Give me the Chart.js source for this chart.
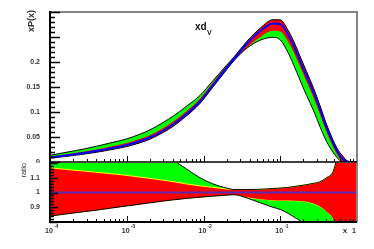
<!DOCTYPE html>
<html>
<head>
<meta charset="utf-8">
<script src="https://cdn.jsdelivr.net/npm/chart.js@4.4.0/dist/chart.umd.min.js"></script>
<style>
body{margin:0;background:#fff;}
#top{position:absolute;left:0;top:0;width:374px;height:166px;}
#bot{position:absolute;left:0;top:163px;width:374px;height:86px;background:#fff;}
</style>
</head>
<body>
<div id="top"><canvas id="c1" width="374" height="166"></canvas></div>
<div id="bot"><canvas id="c2" width="374" height="86"></canvas></div>
<script>
// values
let xs      = [1e-4, 2e-4, 4e-4, 6e-4, 1e-3, 1.5e-3, 2e-3, 3e-3, 4e-3, 6e-3, 9e-3, 0.013, 0.02, 0.025, 0.037, 0.055, 0.08, 0.1, 0.125, 0.15, 0.18, 0.22, 0.27, 0.33, 0.4, 0.55, 0.65, 0.8, 1];
let central = [0.009, 0.015, 0.022, 0.027, 0.034, 0.042, 0.049, 0.063, 0.075, 0.096, 0.121, 0.152, 0.188, 0.206, 0.237, 0.262, 0.277, 0.276, 0.256, 0.232, 0.203, 0.172, 0.140, 0.105, 0.069, 0.022, 0.006, 0, 0];
// band edges as ratio to central
let greenHi = [1.5, 1.46, 1.42, 1.4, 1.36, 1.33, 1.31, 1.26, 1.22, 1.16, 1.1, 1.06, 1.03, 1.02, 1.015, 1.015, 1.018, 1.02, 1.022, 1.026, 1.03, 1.035, 1.04, 1.045, 1.05, 1.06, 1.06, 1.06, 1.06];
let greenLo = [0.84, 0.861, 0.88, 0.893, 0.909, 0.921, 0.93, 0.942, 0.95, 0.96, 0.968, 0.975, 0.982, 0.985, 0.962, 0.93, 0.9, 0.885, 0.86, 0.835, 0.81, 0.775, 0.74, 0.67, 0.6, 0.4, 0.2, 0, 0];
let redHi   = [1.167, 1.152, 1.137, 1.128, 1.116, 1.104, 1.096, 1.083, 1.074, 1.058, 1.045, 1.035, 1.024, 1.02, 1.02, 1.022, 1.027, 1.03, 1.034, 1.04, 1.046, 1.053, 1.062, 1.072, 1.1, 1.25, 2, 2, 2];
let redLo   = [0.84, 0.861, 0.88, 0.893, 0.909, 0.921, 0.93, 0.942, 0.95, 0.96, 0.968, 0.975, 0.982, 0.985, 0.968, 0.955, 0.948, 0.946, 0.945, 0.944, 0.943, 0.937, 0.925, 0.905, 0.87, 0.7, 0, 0, 0];
let decades = [1e-4, 1e-3, 1e-2, 1e-1];
let decadeExp = ['-4', '-3', '-2', '-1'];
let topLabels = [0, 0.05, 0.1, 0.15, 0.2];
let ratioLabels = [0.9, 1, 1.1];

let FONT = '"Liberation Sans", Arial, sans-serif';

function pts(vals){ return xs.map((x,i)=>({x:x, y:vals[i]})); }
function times(r){ return r.map((v,i)=>v*central[i]); }
function hiEnv(){ return xs.map((x,i)=>Math.max(greenHi[i], redHi[i])); }
function loEnv(){ return xs.map((x,i)=>Math.min(greenLo[i], redLo[i])); }

function xTicks(ctx, xS, y, up){
  ctx.lineWidth = 1;
  ctx.strokeStyle = '#000';
  ctx.beginPath();
  decades.forEach(d=>{
    for(let m=1;m<=9;m++){
      let px = Math.round(xS.getPixelForValue(m*d))+0.5;
      let len = m==1 ? 6 : 3;
      ctx.moveTo(px, y); ctx.lineTo(px, y-len*up);
    }
  });
  ctx.stroke();
}

function yTicks(ctx, yS, left, from, to, step, majorEvery, maxLen){
  ctx.lineWidth = 1.5;
  ctx.strokeStyle = '#000';
  ctx.beginPath();
  let n = Math.round((to-from)/step);
  for(let k=0;k<=n;k++){
    let py = Math.round(yS.getPixelForValue(from+k*step))+0.5;
    let len = k%majorEvery==0 ? maxLen : maxLen/2;
    ctx.moveTo(left, py); ctx.lineTo(left+len, py);
  }
  ctx.stroke();
}

let topFrame = {
  id:'topFrame',
  afterDraw(chart){
    let ctx = chart.ctx, a = chart.chartArea, xS = chart.scales.x, yS = chart.scales.y;
    ctx.save();
    ctx.strokeStyle = '#858585'; ctx.lineWidth = 2;
    ctx.beginPath(); ctx.moveTo(a.left, a.top); ctx.lineTo(a.right, a.top); ctx.lineTo(a.right, a.bottom+4); ctx.stroke();
    ctx.strokeStyle = '#000';
    ctx.beginPath(); ctx.moveTo(a.left, a.top-1); ctx.lineTo(a.left, a.bottom+4); ctx.stroke();
    ctx.lineWidth = 1.5;
    ctx.beginPath(); ctx.moveTo(a.left, a.bottom); ctx.lineTo(a.right, a.bottom); ctx.stroke();
    xTicks(ctx, xS, a.bottom, 1);
    yTicks(ctx, yS, a.left, 0, 0.3, 0.01, 5, 10);
    ctx.fillStyle = '#333';
    ctx.font = 'bold 7px ' + FONT;
    ctx.textAlign = 'right'; ctx.textBaseline = 'middle';
    topLabels.forEach(v=>{ ctx.fillText(String(v), a.left-10, yS.getPixelForValue(v)); });
    // axis title
    ctx.save();
    ctx.translate(32, 10); ctx.rotate(-Math.PI/2);
    ctx.font = 'bold 9px ' + FONT;
    ctx.textAlign = 'right';
    ctx.fillText('xP(x)', 0, 0);
    ctx.restore();
    // pdf name
    ctx.fillStyle = '#111';
    ctx.textAlign = 'left';
    ctx.font = 'bold 10px ' + FONT;
    ctx.fillText('xd', a.left+145, a.top+15);
    ctx.font = 'bold 7px ' + FONT;
    ctx.fillText('V', a.left+157, a.top+21);
    ctx.restore();
  }
};

let botFrame = {
  id:'botFrame',
  afterDraw(chart){
    let ctx = chart.ctx, a = chart.chartArea, xS = chart.scales.x, yS = chart.scales.y;
    ctx.save();
    ctx.strokeStyle = '#858585'; ctx.lineWidth = 2;
    ctx.beginPath(); ctx.moveTo(a.right, 0); ctx.lineTo(a.right, a.bottom); ctx.stroke();
    ctx.strokeStyle = '#000';
    ctx.beginPath(); ctx.moveTo(a.left, 0); ctx.lineTo(a.left, a.bottom); ctx.lineTo(a.right, a.bottom); ctx.stroke();
    xTicks(ctx, xS, a.bottom, 1);
    yTicks(ctx, yS, a.left, 0.8, 1.2, 0.02, 5, 8);
    ctx.fillStyle = '#333';
    ctx.font = 'bold 7px ' + FONT;
    ctx.textAlign = 'right'; ctx.textBaseline = 'middle';
    ratioLabels.forEach(v=>{ ctx.fillText(String(v), a.left-10, yS.getPixelForValue(v)); });
    // x labels 10^n
    let ly = a.bottom + 9;
    decades.forEach((d,i)=>{
      let px = xS.getPixelForValue(d);
      ctx.font = 'bold 7px ' + FONT;
      let w = ctx.measureText('10').width;
      ctx.textAlign = 'left';
      ctx.fillText('10', px - w/2 - 1, ly);
      ctx.font = 'bold 5px ' + FONT;
      ctx.fillText(decadeExp[i], px + w/2, ly-4);
    });
    let p1 = xS.getPixelForValue(1);
    ctx.textAlign = 'center';
    ctx.font = 'bold 7px ' + FONT;
    ctx.fillText('1', p1-3, ly);
    ctx.font = 'bold 8px ' + FONT;
    ctx.fillText('x', p1-12, ly);
    // axis title
    ctx.save();
    ctx.translate(24, 0); ctx.rotate(-Math.PI/2);
    ctx.font = '7.5px ' + FONT;
    ctx.textAlign = 'right';
    ctx.fillText('ratio', 0, 0);
    ctx.restore();
    ctx.restore();
  }
};

function bandSets(hi, lo, env, mid, midColor, redBorder){
  return [
    {data: pts(mid), borderColor: midColor, borderWidth: 2},
    {data: pts(env[0]), borderColor: '#000', borderWidth: 1},
    {data: pts(env[1]), borderColor: '#000', borderWidth: 1},
    {data: pts(hi.red), borderColor: redBorder, borderWidth: redBorder ? 1 : 0, backgroundColor: '#ff0000', fill: '+1'},
    {data: pts(lo.red), borderColor: redBorder, borderWidth: redBorder ? 1 : 0},
    {data: pts(hi.green), borderWidth: 0, backgroundColor: '#00ff00', fill: '+1'},
    {data: pts(lo.green), borderWidth: 0}
  ];
}

function opts(ymin, ymax, pad){
  return {
    responsive: false,
    animation: false,
    layout: {padding: pad},
    elements: {point: {radius: 0}, line: {cubicInterpolationMode: 'monotone'}},
    plugins: {legend: {display: false}, tooltip: {enabled: false}},
    scales: {
      x: {type: 'logarithmic', min: 1e-4, max: 1, display: false},
      y: {type: 'linear', min: ymin, max: ymax, display: false}
    }
  };
}

let ctxTop = document.getElementById('c1').getContext('2d');
new Chart(ctxTop, {
  type: 'line',
  data: {datasets: bandSets(
    {red: times(redHi), green: times(greenHi)},
    {red: times(redLo), green: times(greenLo)},
    [times(hiEnv()), times(loEnv())],
    central, '#0000ff', null)},
  options: opts(0, 0.3, {left: 50, right: 17, top: 12, bottom: 4}),
  plugins: [topFrame]
});

let ctxBot = document.getElementById('c2').getContext('2d');
new Chart(ctxBot, {
  type: 'line',
  data: {datasets: bandSets(
    {red: redHi, green: greenHi},
    {red: redLo, green: greenLo},
    [hiEnv(), loEnv()],
    xs.map(()=>1), '#5a2ab4', '#ffff00')},
  options: opts(0.8, 1.2, {left: 50, right: 17, top: 0, bottom: 27}),
  plugins: [botFrame]
});
</script>
</body>
</html>
